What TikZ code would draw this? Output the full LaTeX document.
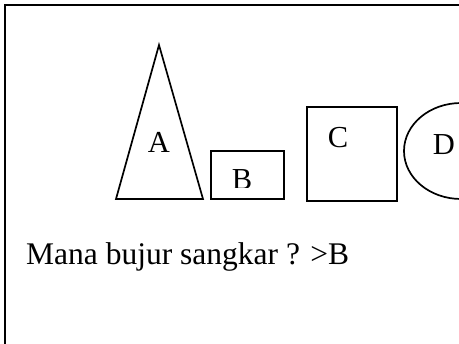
\documentclass[tikz,border=0pt]{standalone}
\usepackage{fontspec}
\setmainfont{Liberation Serif}
\usepackage{tikz}
\usetikzlibrary{positioning}

\begin{document}
\begin{tikzpicture}[
    x=1pt, y=-1pt,
    outline/.style={draw=black, line width=1.7pt},
    frameline/.style={draw=black, line width=2.3pt},
    letter/.style={inner sep=0pt, font=\fontsize{30.5}{34}\selectfont},
    question/.style={inner sep=0pt, anchor=base west, font=\fontsize{31.5}{36}\selectfont}
]
    \useasboundingbox (0,0) rectangle (459,344);
    \clip (0,0) rectangle (459,344);

    % outer frame, cut by the page edge
    \draw [frameline] (5,360) -- (5,5) -- (470,5);

    % the four shapes
    \draw [outline] (159,45) -- (203,199) -- (116,199) -- cycle;
    \draw [outline] (211,151) rectangle (284,199);
    \draw [outline] (307,107) rectangle (397,201);
    \draw [outline] (461,151) ellipse [x radius=57, y radius=48];

    \node (labA) [letter] at (159,142) {A};
    \begin{scope}
        \clip (211,151) rectangle (284,188);
        \node (labB) [letter] at (242,180) {B};
    \end{scope}
    \node (labC) [letter] at (338,138) {C};
    \node (labD) [letter] at (444,145) {D};

    \node (ask) [question] at (26,265) {Mana bujur sangkar ? >B};
\end{tikzpicture}
\end{document}
